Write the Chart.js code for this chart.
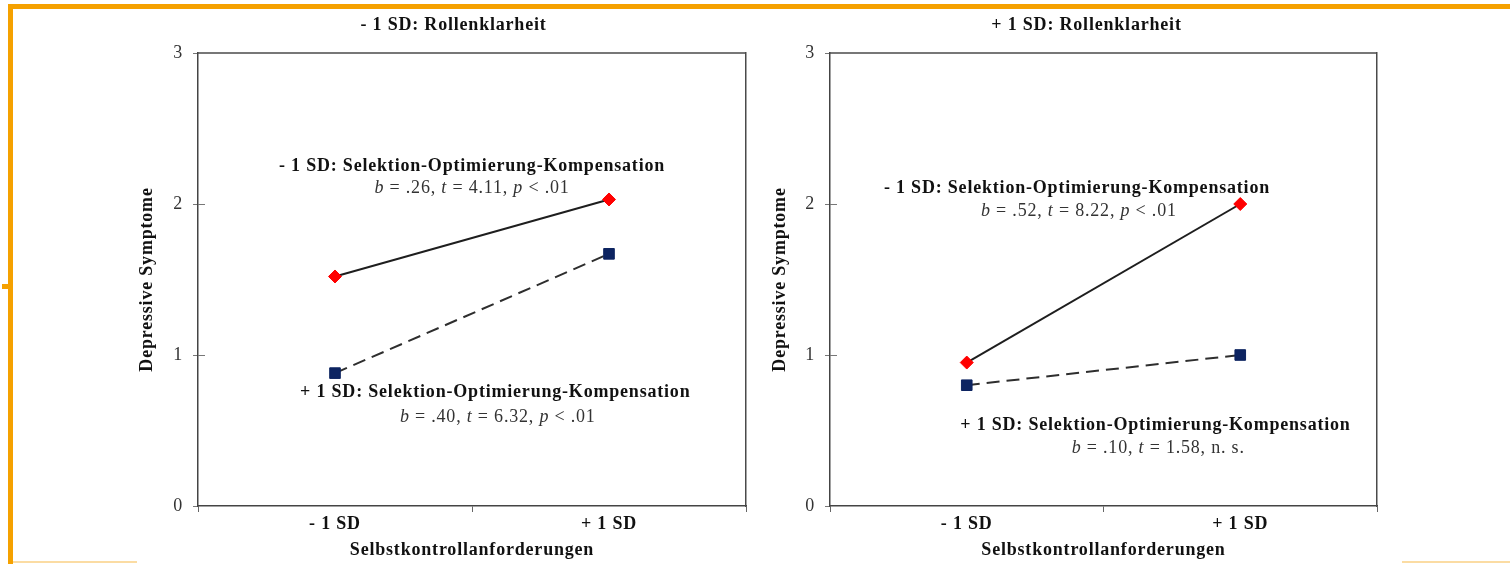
<!DOCTYPE html>
<html>
<head>
<meta charset="utf-8">
<script src="https://cdn.jsdelivr.net/npm/chart.js@4.4.1/dist/chart.umd.min.js"></script>
<style>
  html, body { margin: 0; padding: 0; background: #fff; }
  #page { position: relative; width: 1510px; height: 564px; overflow: hidden; background: #fff; }
  .bar { position: absolute; background: #f5a100; }
  canvas { position: absolute; top: 0; }
</style>
</head>
<body>
<div id="page">
  <div class="bar" style="left:8px;top:4px;width:1502px;height:5px"></div>
  <div class="bar" style="left:8px;top:4px;width:5px;height:560px"></div>
  <div class="bar" style="left:2px;top:284px;width:11px;height:5px"></div>
  <div class="bar" style="left:13px;top:561px;width:124px;height:2px;background:#fbdca3"></div>
  <div class="bar" style="left:1402px;top:561px;width:108px;height:2px;background:#fbdca3"></div>
  <canvas id="left" width="633" height="564" style="left:137px"></canvas>
  <canvas id="right" width="633" height="564" style="left:770px"></canvas>
</div>
<script>
const categories = ['- 1 SD', '+ 1 SD'];
const panelTitles = ['- 1 SD: Rollenklarheit', '+ 1 SD: Rollenklarheit'];
const xAxisTitle = 'Selbstkontrollanforderungen';
const yAxisTitle = 'Depressive Symptome';

// niedrige Rollenklarheit
const lowRkLowSok = [1.52, 2.03];
const lowRkHighSok = [0.88, 1.67];
// hohe Rollenklarheit
const highRkLowSok = [0.95, 2.00];
const highRkHighSok = [0.80, 1.00];

const serif = '"Liberation Serif", "Times New Roman", serif';
const fontSize = 18;
const spacing = '0.8px';

// slope labels: x as fraction between the two categories, y in data units
const leftNotes = [
  { x: 0.5, y: 2.25, bold: true, parts: [['- 1 SD: Selektion-Optimierung-Kompensation']] },
  { x: 0.5, y: 2.105, parts: [['b', 1], [' = .26, '], ['t', 1], [' = 4.11, '], ['p', 1], [' < .01']] },
  { x: 0.585, y: 0.75, bold: true, parts: [['+ 1 SD: Selektion-Optimierung-Kompensation']] },
  { x: 0.594, y: 0.59, parts: [['b', 1], [' = .40, '], ['t', 1], [' = 6.32, '], ['p', 1], [' < .01']] }
];
const rightNotes = [
  { x: 0.403, y: 2.105, bold: true, parts: [['- 1 SD: Selektion-Optimierung-Kompensation']] },
  { x: 0.41, y: 1.95, parts: [['b', 1], [' = .52, '], ['t', 1], [' = 8.22, '], ['p', 1], [' < .01']] },
  { x: 0.69, y: 0.536, bold: true, parts: [['+ 1 SD: Selektion-Optimierung-Kompensation']] },
  { x: 0.70, y: 0.384, parts: [['b', 1], [' = .10, '], ['t', 1], [' = 1.58, n. s.']] }
];

const spacingPlugin = {
  id: 'spacing',
  beforeUpdate(chart) { chart.ctx.letterSpacing = spacing; },
  beforeDraw(chart) { chart.ctx.letterSpacing = spacing; },
  resize(chart) { chart.ctx.letterSpacing = spacing; }
};

const framePlugin = {
  id: 'frame',
  beforeDatasetsDraw(chart) {
    const { ctx, chartArea: a } = chart;
    const y = chart.scales.y;
    ctx.save();
    ctx.strokeStyle = '#4a4a4a';
    ctx.lineWidth = 1.5;
    ctx.beginPath();
    ctx.moveTo(a.left, a.top);
    ctx.lineTo(a.right, a.top);
    ctx.stroke();
    // inner half of the y tick marks
    ctx.lineWidth = 1;
    ctx.strokeStyle = '#777';
    y.ticks.forEach(t => {
      if (t.value <= y.min || t.value >= y.max) return;
      const py = Math.round(y.getPixelForValue(t.value)) + 0.5;
      ctx.beginPath();
      ctx.moveTo(a.left, py);
      ctx.lineTo(a.left + 7, py);
      ctx.stroke();
    });
    ctx.restore();
  }
};

function makeNotesPlugin(notes) {
  return {
    id: 'notes',
    afterDatasetsDraw(chart) {
      const { ctx } = chart;
      const x = chart.scales.x, y = chart.scales.y;
      const p0 = x.getPixelForValue(0), p1 = x.getPixelForValue(1);
      ctx.save();
      ctx.textBaseline = 'middle';
      ctx.textAlign = 'left';
      notes.forEach(n => {
        const base = (n.bold ? 'bold ' : '') + fontSize + 'px ' + serif;
        const ital = 'italic ' + fontSize + 'px ' + serif;
        let total = 0;
        const widths = n.parts.map(p => {
          ctx.font = p[1] ? ital : base;
          const w = ctx.measureText(p[0]).width;
          total += w;
          return w;
        });
        let px = p0 + (p1 - p0) * n.x - total / 2;
        const py = y.getPixelForValue(n.y);
        ctx.fillStyle = n.bold ? '#111' : '#333';
        n.parts.forEach((p, i) => {
          ctx.font = p[1] ? ital : base;
          ctx.fillText(p[0], px, py);
          px += widths[i];
        });
      });
      ctx.restore();
    }
  };
}

function makeChart(id, title, solid, dashed, notes, yWidth, rightGap) {
  const bold = { family: serif, size: fontSize, weight: 'bold', lineHeight: 1.2 };
  return new Chart(document.getElementById(id), {
    type: 'line',
    data: {
      labels: categories,
      datasets: [{
        data: solid,
        borderColor: '#1e1e1e',
        borderWidth: 2,
        pointStyle: 'rectRot',
        pointRadius: 6.5,
        pointBackgroundColor: '#ff0000',
        pointBorderColor: '#ff0000',
        pointBorderWidth: 1
      }, {
        data: dashed,
        borderColor: '#2e2e2e',
        borderWidth: 2,
        borderDash: [13, 7],
        pointStyle: 'rect',
        pointRadius: 7.5,
        pointBackgroundColor: '#0d2461',
        pointBorderColor: '#0d2461',
        pointBorderWidth: 1
      }]
    },
    options: {
      responsive: false,
      animation: false,
      events: [],
      plugins: {
        legend: { display: false },
        tooltip: { enabled: false },
        title: {
          display: true,
          text: title,
          color: '#111',
          font: bold,
          padding: { top: 15, bottom: 16.4 }
        }
      },
      scales: {
        x: {
          offset: true,
          grid: { offset: true, drawOnChartArea: false, tickLength: 6, tickColor: '#666' },
          border: { color: '#444', width: 1.5 },
          ticks: { color: '#111', padding: 2, font: bold },
          title: { display: true, text: xAxisTitle, color: '#111', font: bold, padding: { top: 2, bottom: 3 } },
          afterFit(s) { s.height = 58; }
        },
        y: {
          min: 0,
          max: 3,
          ticks: { stepSize: 1, color: '#333', padding: 10, font: { family: serif, size: fontSize } },
          grid: { drawOnChartArea: false, tickLength: 5, tickColor: '#777' },
          border: { color: '#444', width: 1.5 },
          title: { display: true, text: yAxisTitle, color: '#111', font: bold, padding: { top: 0, bottom: 0 } },
          afterFit(s) { s.width = yWidth; }
        },
        // right edge of the plot frame
        yRight: {
          position: 'right',
          min: 0,
          max: 3,
          ticks: { display: false },
          grid: { drawOnChartArea: false, drawTicks: false },
          border: { color: '#4a4a4a', width: 1.5 },
          afterFit(s) { s.width = rightGap; }
        }
      }
    },
    plugins: [spacingPlugin, framePlugin, makeNotesPlugin(notes)]
  });
}

makeChart('left', panelTitles[0], lowRkLowSok, lowRkHighSok, leftNotes, 61, 24);
makeChart('right', panelTitles[1], highRkLowSok, highRkHighSok, rightNotes, 60, 26);
</script>
</body>
</html>
